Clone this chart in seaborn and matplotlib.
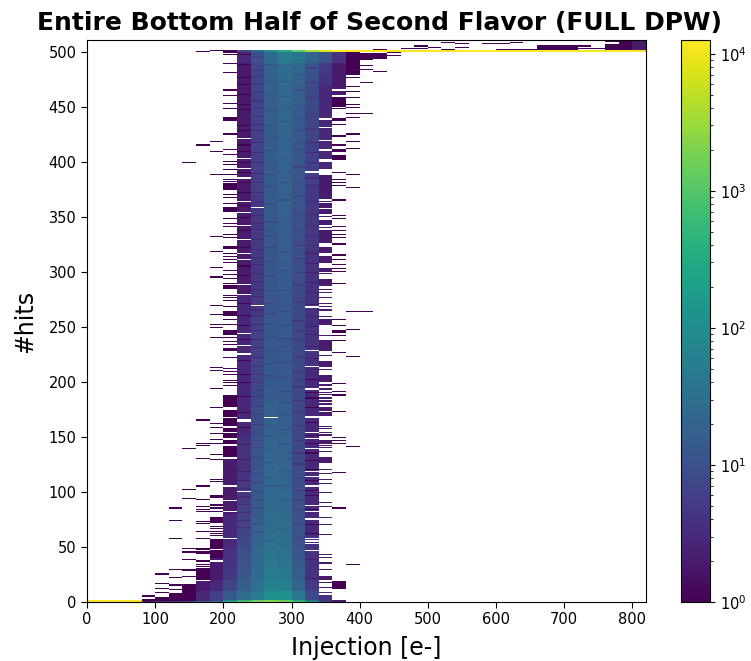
import matplotlib
matplotlib.use("Agg")
import matplotlib.pyplot as plt
import numpy as np
import pandas as pd
import seaborn as sns
from matplotlib.colors import LogNorm


def span(a, b):
    return list(range(a, b + 1))


# counts per 10 rows of hits (row 0-9, 10-19, ...)
c220 = [28, 16, 13, 11, 9, 8, 7, 6, 6, 5, 5, 4, 4, 4, 4, 3, 3, 3, 3, 3, 3, 3, 3, 3, 3, 3, 3, 3, 2, 2,
        2, 2, 2, 2, 2, 2, 2, 2, 2, 2, 2, 2, 2, 2, 2, 2, 2, 2, 2, 3]
c240 = [50, 30, 26, 24, 22, 20, 18, 16, 15, 14, 13, 12, 12, 11, 11, 10, 9, 9, 8, 8, 7, 7, 6, 6, 6, 6, 5, 5, 5, 5,
        5, 5, 5, 5, 5, 5, 5, 6, 6, 6, 6, 6, 6, 6, 7, 7, 7, 7, 8, 10]
c260 = [110, 60, 48, 42, 38, 34, 30, 28, 27, 26, 24, 23, 22, 21, 20, 19, 18, 17, 16, 15, 14, 14, 13, 13, 13, 13, 12, 12, 13, 13,
        13, 13, 13, 13, 14, 14, 14, 14, 15, 15, 15, 15, 15, 16, 16, 16, 17, 17, 18, 24]
c280 = [120, 55, 45, 38, 34, 30, 28, 27, 25, 24, 22, 21, 20, 19, 18, 17, 16, 16, 15, 14, 14, 14, 14, 13, 14, 14, 14, 14, 15, 15,
        15, 16, 16, 17, 17, 18, 18, 19, 19, 20, 20, 21, 21, 22, 22, 23, 24, 26, 30, 50]
c300 = [45, 20, 16, 14, 12, 11, 11, 10, 10, 9, 9, 9, 8, 8, 8, 8, 8, 8, 8, 8, 8, 8, 8, 8, 8, 8, 8, 8, 8, 9,
        9, 9, 9, 10, 10, 10, 11, 11, 12, 12, 13, 13, 14, 14, 15, 16, 17, 18, 22, 40]
c320 = [8, 5, 4, 4, 4, 4, 3, 3, 3, 3, 3, 3, 3, 3, 3, 3, 3, 3, 3, 3, 3, 4, 4, 4, 4, 4, 4, 4, 4, 4,
        4, 4, 5, 5, 5, 5, 5, 5, 6, 6, 6, 6, 7, 7, 7, 8, 8, 9, 11, 20]
c340 = [4, 2, 2, 2, 2, 2, 2, 2, 2, 2, 2, 2, 2, 2, 2, 2, 2, 2, 2, 2, 2, 2, 2, 2, 2, 2, 2, 2, 2, 2,
        2, 2, 2, 2, 2, 2, 2, 2, 2, 3, 3, 3, 3, 3, 3, 3, 3, 4, 5, 11]
c360 = [2, 1, 1, 1, 1, 1, 1, 1, 1, 1, 1, 1, 1, 1, 1, 1, 1, 1, 1, 1, 1, 1, 1, 1, 1, 1, 1, 1, 1, 1,
        1, 1, 1, 1, 1, 1, 1, 1, 1, 1, 1, 1, 1, 1, 1, 1, 2, 2, 2, 4]
c200 = [14, 7, 5, 4, 4, 3, 3, 3, 2, 2, 2, 2, 2]
c180 = [6, 3, 2, 2, 1]
c160 = [3, 2, 1]

dense_levels = {220: c220, 240: c240, 260: c260, 280: c280, 300: c300, 320: c320}
low_levels = {160: c160, 180: c180, 200: c200, 340: c340, 360: c360}

# rows with no entries in the filled columns
holes = {
    220: [421, 403, 394, 385, 364, 354, 342, 329, 316, 311, 288, 279, 244, 233, 225, 165, 164, 100],
    240: [358, 269],
    260: [167],
    320: [391, 390, 268, 267, 228, 214, 194, 193, 168, 167, 154, 148, 139, 118, 114, 105, 87, 82, 75, 57, 55, 53, 46],
}

# rows that come out darker than their neighbours
dips = {
    220: [497, 488, 476, 470, 461, 452, 447, 433, 428, 415, 409, 399, 390, 381, 372, 360, 349, 337, 322, 305, 296, 271,
          260, 251, 238, 219, 206, 199, 186, 172, 158, 143, 129, 118, 110, 103, 95, 88, 81, 74, 67],
    240: [495, 483, 477, 471, 463, 455, 448, 441, 434, 428, 417, 408, 399, 389, 381, 372, 363, 351, 344, 338, 329, 320,
          313, 306, 298, 291, 284, 277, 265, 259, 252, 246, 238, 231, 222, 214, 206, 199, 192, 186, 177, 170, 161, 153,
          146, 140, 131, 124, 116, 108, 100, 92, 85, 79, 70, 63],
    260: [488, 474, 460, 446, 433, 421, 410, 398, 388, 377, 361, 345, 333, 322, 309, 296, 283, 271, 262, 252, 240, 228,
          216, 205, 197, 188, 174, 160, 150, 139, 126, 113, 105, 96, 84, 72, 64, 55, 47],
    280: [488, 473, 459, 447, 436, 419, 402, 391, 381, 365, 349, 331, 318, 301, 283, 264, 251, 239, 227, 217, 204, 191,
          181, 170, 156, 143, 130, 118, 105, 93, 79, 66, 52],
    300: [492, 479, 465, 451, 439, 428, 411, 395, 381, 368, 352, 337, 324, 312, 299, 287, 272, 255, 246, 238, 222, 209,
          202, 195, 183, 173, 160, 146, 135, 125, 112, 101, 92, 84, 71, 58],
    320: [485, 472, 458, 444, 430, 417, 408, 399, 385, 378, 364, 352, 342, 333, 324, 316, 307, 299, 290, 281, 270, 259,
          250, 243, 232, 221, 211, 202, 190, 185, 176, 163, 151, 144, 135, 128, 120, 110, 101, 96, 84, 70, 62, 38, 21],
}

# rows hit in the thinly filled columns
sparse_rows = {
    80: [5, 2, 1],
    100: [25, 16, 12, 8, 4, 3, 2, 1],
    120: [85, 74, 57, 29, 22, 15, 11] + span(1, 7),
    140: [399, 139, 102, 94, 48, 45, 38, 29, 28, 23] + span(1, 15),
    160: [500, 415, 165, 144, 142, 130, 105, 93, 86, 84, 82, 73, 71, 64, 57, 48, 47, 45, 44, 37, 36, 34, 32]
         + span(20, 30) + span(1, 18),
    180: [501, 418, 409, 388, 332, 318, 304, 295, 269, 261, 252, 249, 240, 213, 210, 194, 176, 162, 158, 153, 147, 144,
          134, 129, 111, 109, 96, 95, 88, 87, 85, 82, 68, 66, 64, 62, 60] + span(72, 76) + span(38, 46) + span(48, 56)
         + span(1, 35),
    200: [499, 497, 489, 481, 465, 460, 453, 448, 425, 411, 406, 400, 397, 393, 388, 384, 382, 370, 367, 362, 348, 344,
          341, 334, 331, 316, 314, 311, 308, 301, 297, 294, 289, 278, 276, 274, 268, 256, 252, 240, 236, 234, 222, 212,
          209, 206, 201, 199, 196] + span(437, 440) + span(375, 380) + span(355, 358) + span(321, 323) + span(285, 287)
         + span(260, 264) + span(243, 246) + span(228, 230) + span(177, 187) + span(168, 174) + span(160, 166)
         + span(155, 157) + span(149, 153) + span(144, 146) + span(132, 141) + span(106, 129) + span(93, 104)
         + span(83, 91) + span(58, 81) + span(1, 56),
    340: span(500 - 60, 499) + [437, 436, 435, 434, 433, 432] + span(420, 430) + span(412, 418) + span(403, 409)
         + span(394, 399) + span(366, 387) + [364, 350, 340, 326, 308, 303, 298, 284, 281, 276] + span(358, 362)
         + span(353, 356) + span(343, 346) + span(327, 337) + span(317, 322) + span(309, 314) + span(300, 302)
         + span(287, 293) + [271, 268, 265, 259, 252, 242, 224, 214, 211, 196, 193, 190, 185, 183, 180, 170, 159, 154,
                             151, 145, 142, 136, 130, 127] + span(253, 256) + span(228, 237) + span(215, 218)
         + span(200, 205) + span(174, 176) + [200, 197, 194, 190, 188, 185, 182, 179, 175, 157, 152, 146, 144, 140, 120,
                                               116, 111, 107, 99, 90, 86, 76, 70, 61, 43, 40, 35, 29, 17, 13, 8]
         + span(169, 172) + span(126, 131) + span(20, 23) + span(1, 5),
    360: span(466, 499) + span(461, 464) + span(450, 458) + [448, 439, 438, 437, 434, 423, 415, 410, 405, 404, 403, 402,
          424, 411, 409, 390, 384, 381, 378, 365, 351, 348, 341, 337, 334, 331, 325, 315, 311, 306, 303, 300, 289, 256,
          251, 246, 245, 242, 237, 226, 198, 191, 187, 173, 149, 146, 144, 191, 188, 117, 85, 18, 17, 16, 15, 14, 13, 12,
          1],
    380: span(479, 499) + [476, 468, 464, 458, 452, 449, 444, 440, 425, 418, 412, 388, 376, 264, 247, 223, 141, 34],
    400: [498, 497, 496, 495, 494, 493, 487, 484, 472, 444, 264],
    420: [502, 498, 497, 496, 495, 494, 482],
    440: [499, 496],
    460: [503, 500],
    480: [505, 503, 501],
    500: [504],
    520: [508, 502],
    540: [507, 504],
    580: [507],
    600: [507, 502],
    620: [508, 502],
    640: [502],
    660: span(502, 505),
    680: span(502, 505),
    700: span(502, 505),
    720: [505, 503],
    740: [503],
    760: span(502, 506) + [509],
    780: span(502, 509),
    800: span(502, 510),
}

# the two rows along the bottom and the two rows at 500 across the injection bins
row0_x = [0, 20, 40, 60, 80, 100, 120, 140, 160, 180, 200, 220, 240, 260, 280, 300, 320, 340, 360]
row0_v = [12600, 12600, 12600, 12600, 2, 3, 5, 8, 15, 40, 300, 1200, 2400, 3000, 1800, 700, 90, 10, 2]
row1_x = [0, 20, 40, 60, 200, 220, 240, 260, 280, 300, 320]
row1_v = [12600, 12600, 12600, 12600, 80, 400, 1200, 2000, 1200, 300, 30]
row500_x = [200, 220, 240, 260, 280, 300, 320, 340, 360, 380, 400, 420, 440, 460, 480, 500, 520, 540, 560, 580, 600,
            620, 640, 660, 680, 700, 720, 740, 760, 780, 800]
row500_v = [1, 8, 25, 100, 300, 1200, 4000, 8000, 12000, 12600, 12600, 12600, 12600, 12600, 12600, 12600, 12600,
            12600, 12600, 12600, 12600, 12600, 12600, 12600, 12600, 12600, 12600, 12600, 12600, 12600, 12600]

x_ticks = [0, 100, 200, 300, 400, 500, 600, 700, 800]
y_ticks = [0, 50, 100, 150, 200, 250, 300, 350, 400, 450, 500]


def build_counts():
    counts = {}
    for col, levels in dense_levels.items():
        for row in range(500):
            counts[(col, row)] = levels[row // 10]
        for row in dips.get(col, []):
            counts[(col, row)] = max(1, int(counts[(col, row)] * 0.6))
        for row in holes.get(col, []):
            counts.pop((col, row), None)
    for col, rows in sparse_rows.items():
        levels = low_levels.get(col, [])
        for row in rows:
            counts[(col, row)] = levels[row // 10] if row // 10 < len(levels) else 1
    for row in sparse_rows[800]:
        counts[(800, row)] = 2
    for col, val in zip(row0_x, row0_v):
        counts[(col, 0)] = val
    for col, val in zip(row1_x, row1_v):
        counts[(col, 1)] = val
    for col, val in zip(row500_x, row500_v):
        counts[(col, 500)] = val
        counts[(col, 501)] = val
    return pd.DataFrame(
        [(col + 10, row + 0.5, val) for (col, row), val in counts.items()],
        columns=["injection", "hits", "count"],
    )


def main():
    df = build_counts()
    sns.set_style("ticks", {
        "text.color": "black",
        "axes.labelcolor": "black",
        "xtick.color": "black",
        "ytick.color": "black",
        "axes.edgecolor": "black",
    })
    plt.rcParams["font.family"] = ["DejaVu Sans"]

    fig = plt.figure(figsize=(7.51, 6.61), dpi=100)
    ax = fig.add_axes([87 / 751, 1 - 602 / 661, 559 / 751, 562 / 661])
    cax = fig.add_axes([681 / 751, 1 - 602 / 661, 29 / 751, 562 / 661])

    sns.histplot(
        data=df,
        x="injection",
        y="hits",
        weights="count",
        bins=[np.arange(0, 840, 20), np.arange(0, 512, 1)],
        cmap="viridis",
        thresh=0,
        ax=ax,
    )
    mesh = ax.collections[0]
    mesh.set_norm(LogNorm(vmin=1, vmax=12600))
    fig.colorbar(mesh, cax=cax)

    ax.set_xlim(0, 820)
    ax.set_ylim(0, 511)
    ax.set_xticks(x_ticks)
    ax.set_yticks(y_ticks)
    ax.tick_params(labelsize=10.5, length=4, color="black")
    cax.tick_params(labelsize=10.5, color="black")
    ax.set_xlabel("Injection [e-]", fontsize=17, labelpad=6)
    ax.set_ylabel("#hits", fontsize=17, labelpad=8)
    ax.set_title("Entire Bottom Half of Second Flavor (FULL DPW)", fontsize=18, fontweight="bold", pad=7, x=0.523)
    ax.grid(False)
    for spine in ax.spines.values():
        spine.set_visible(True)
        spine.set_color("black")

    fig.savefig("out.png", dpi=100)
    plt.close(fig)


if __name__ == "__main__":
    main()
